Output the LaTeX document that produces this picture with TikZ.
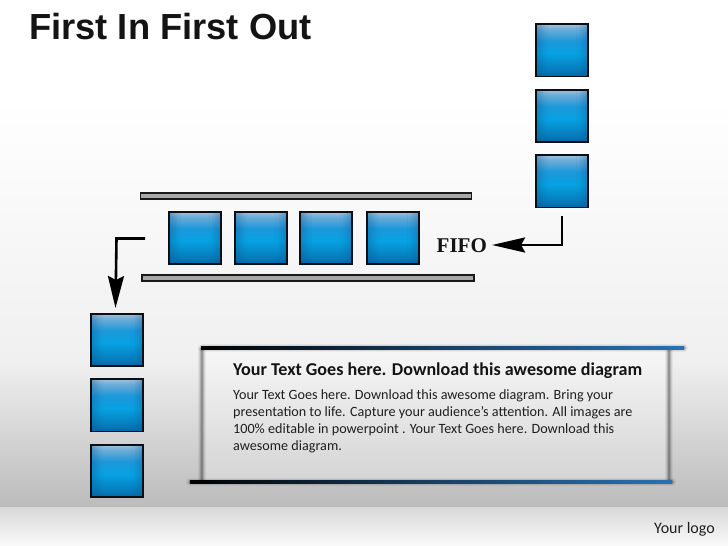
\documentclass[tikz,border=0pt]{standalone}
\usepackage{fontspec}
\setmainfont{Carlito}
\newfontfamily\titlefont{Liberation Sans}
\newfontfamily\fifofont{Liberation Serif}
\usetikzlibrary{arrows.meta,fadings}
\definecolor{bgmid}{HTML}{F0F0F0}
\definecolor{bgbot}{HTML}{BBBBBB}
\definecolor{footA}{HTML}{D8D8D8}
\definecolor{footB}{HTML}{FAFAFA}
\definecolor{lineblue}{HTML}{2A78BE}
\definecolor{linemid}{HTML}{173F63}
\definecolor{ink}{HTML}{0B0F14}
\definecolor{sq0}{HTML}{055C9C}
\definecolor{sq1}{HTML}{0678B8}
\definecolor{sq2}{HTML}{06A2E2}
\definecolor{sq3}{HTML}{1C98DA}
\definecolor{sq4}{HTML}{6CACD8}
\definecolor{sq5}{HTML}{B4CCE2}
\definecolor{sqedge}{HTML}{065A96}
\pgfdeclareverticalshading{boxblue}{54bp}{
  color(0bp)=(sq0); color(7bp)=(sq1); color(24bp)=(sq2);
  color(36bp)=(sq3); color(47bp)=(sq4); color(54bp)=(sq5)}
\pgfdeclarehorizontalshading{edgeblue}{100bp}{
  color(0bp)=(black); color(25bp)=(black); color(50bp)=(linemid); color(78bp)=(lineblue); color(100bp)=(lineblue)}
\begin{tikzfadingfrompicture}[name=sidefade]
  \shade[left color=transparent!50,right color=transparent!100] (-1,-1) rectangle (-0.5,1);
  \shade[left color=transparent!100,right color=transparent!50] (0.5,-1) rectangle (1,1);
\end{tikzfadingfrompicture}
\tikzset{
  qbox/.style={draw=ink,line width=1.7pt,minimum size=52.3pt,inner sep=0pt,outer sep=0.85pt,shading=boxblue,
    path picture={\fill[sqedge,path fading=sidefade,fit fading=true] (path picture bounding box.south west) rectangle (path picture bounding box.north east);}},
  rail/.style={draw=black!90,line width=1.9pt,fill=black!34,minimum height=6.2pt,inner sep=0pt},
  flow/.style={draw=black,line width=2.6pt},
  bigtip/.style={-{Stealth[length=32pt,width=16pt,inset=4pt]}},
  edgeline/.style={inner sep=0pt,minimum height=2.6pt,shading=edgeblue},
  body/.style={anchor=base west,inner sep=0pt,font=\fontsize{14.15}{17}\selectfont,text=black!88},
}
\begin{document}
\begin{tikzpicture}[x=1pt,y=-1pt]
\useasboundingbox (0,0) rectangle (728,546);
% background
\fill[white] (0,0) rectangle (728,100.2);
\shade[top color=white,bottom color=bgmid] (0,100) rectangle (728,360.2);
\shade[top color=bgmid,bottom color=bgbot] (0,360) rectangle (728,507.2);
\shade[top color=footA,bottom color=footB] (0,507) rectangle (728,546);
% title
\node[anchor=base west,inner sep=0pt,font=\titlefont\bfseries\fontsize{36.3}{36}\selectfont,text=black!92] (title) at (29,39) {First In First Out};
% right column
\node[qbox] (r1) at (562,50.3) {};
\node[qbox] (r2) at (562,115.8) {};
\node[qbox] (r3) at (562,181.3) {};
% FIFO rails
\node[rail,minimum width=331pt] (railtop) at (306,196) {};
\node[rail,minimum width=332pt] (railbot) at (308,278) {};
% middle row
\node[qbox] (m1) at (195,237.8) {};
\node[qbox] (m2) at (261,237.8) {};
\node[qbox] (m3) at (326,237.8) {};
\node[qbox] (m4) at (393,237.8) {};
\node[anchor=base west,inner sep=0pt,font=\fifofont\bfseries\fontsize{21}{20}\selectfont,text=black!92] (fifo) at (436.5,252) {FIFO};
% left column
\node[qbox] (l1) at (117,340) {};
\node[qbox] (l2) at (117,405.3) {};
\node[qbox] (l3) at (117,471) {};
% connectors
\coordinate (rstart) at ([yshift=-8pt]r3.south);
\coordinate (rcorner) at (562,245);
\coordinate (lstart) at (145,238.5);
\coordinate (lcorner) at (116.5,238.5);
\draw[flow,-{Stealth[length=33pt,width=15pt,inset=4pt]}] (rstart) -- (rcorner) -- ([xshift=5pt]fifo.east |- rcorner);
\draw[flow,bigtip] (lstart) -- (lcorner) -- ([xshift=-1.5pt,yshift=5pt]l1.north);
% text panel
\fill[top color=black!3,bottom color=black!17] (202,348) rectangle (669,482);
\foreach \w/\o in {8/.05,5.5/.08,3.5/.13,2/.18}{
  \draw[line width=\w pt,black,opacity=\o] (202,348) -- (202,482);
  \draw[line width=\w pt,black,opacity=\o] (669,348) -- (669,482);
  \draw[line width=\w pt,black,opacity=\o,line cap=round] (202,348) -- (684,348);
  \draw[line width=\w pt,black,opacity=\o,line cap=round] (190,482) -- (672,482);
}
\node[edgeline,minimum width=483pt] (ptop) at (442.5,347.8) {};
\node[edgeline,minimum width=482pt] (pbot) at (431,481.8) {};
\node[anchor=base west,inner sep=0pt,font=\bfseries\fontsize{18.08}{20}\selectfont,text=black!92] (head) at (233,375.5) {Your Text Goes here. Download this awesome diagram};
\node[body] (b1) at (233,399) {Your Text Goes here. Download this awesome diagram. Bring your};
\node[body] (b2) at (233,416) {presentation to life. Capture your audience’s attention. All images are};
\node[body] (b3) at (233,433) {100\% editable in powerpoint . Your Text Goes here. Download this};
\node[body] (b4) at (233,450) {awesome diagram.};
% logo
\node[anchor=base west,inner sep=0pt,font=\fontsize{16}{18}\selectfont,text=black!88] (logo) at (654,533) {Your logo};
\end{tikzpicture}
\end{document}
